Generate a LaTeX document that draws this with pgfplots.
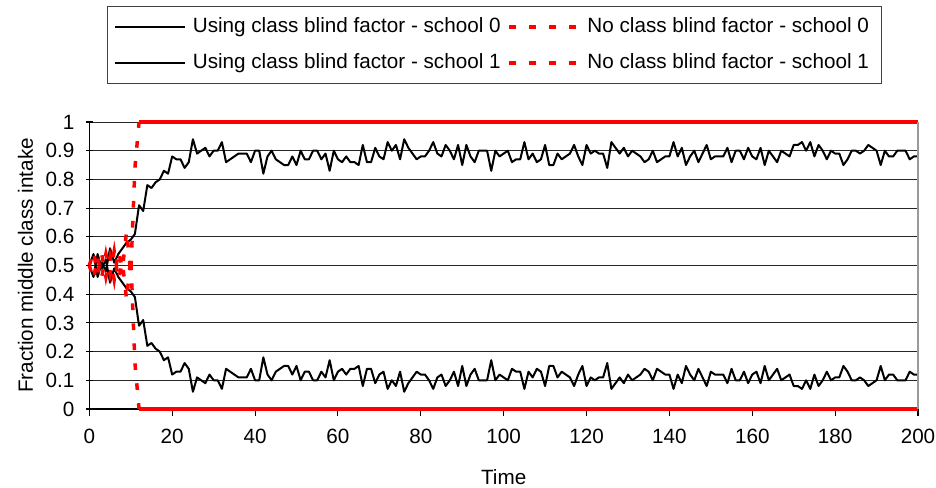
\documentclass[border=0pt]{standalone}
\usepackage{fontspec}
\setmainfont{Liberation Sans}
\usepackage{pgfplots}
\usepackage{pgfplotstable}
\pgfplotsset{compat=1.18}

% t, school 0, school 1 (using class blind factor)
\pgfplotstableread{
t a b
0 0.50 0.50
1 0.54 0.46
2 0.46 0.54
3 0.51 0.49
4 0.48 0.52
5 0.56 0.44
6 0.51 0.49
7 0.54 0.46
8 0.56 0.44
9 0.58 0.42
10 0.59 0.41
11 0.61 0.39
12 0.71 0.29
13 0.69 0.31
14 0.78 0.22
15 0.77 0.23
16 0.79 0.21
17 0.80 0.20
18 0.83 0.17
19 0.82 0.18
20 0.88 0.12
21 0.87 0.13
22 0.87 0.13
23 0.84 0.16
24 0.86 0.14
25 0.94 0.06
26 0.89 0.11
27 0.90 0.10
28 0.91 0.09
29 0.88 0.12
30 0.90 0.10
31 0.90 0.10
32 0.93 0.07
33 0.86 0.14
34 0.87 0.13
35 0.88 0.12
36 0.89 0.11
37 0.89 0.11
38 0.89 0.11
39 0.86 0.14
40 0.90 0.10
41 0.90 0.10
42 0.82 0.18
43 0.88 0.12
44 0.90 0.10
45 0.87 0.13
46 0.86 0.14
47 0.85 0.15
48 0.85 0.15
49 0.88 0.12
50 0.85 0.15
51 0.90 0.10
52 0.87 0.13
53 0.87 0.13
54 0.90 0.10
55 0.90 0.10
56 0.87 0.13
57 0.89 0.11
58 0.83 0.17
59 0.90 0.10
60 0.87 0.13
61 0.86 0.14
62 0.88 0.12
63 0.86 0.14
64 0.86 0.14
65 0.85 0.15
66 0.92 0.08
67 0.86 0.14
68 0.86 0.14
69 0.91 0.09
70 0.88 0.12
71 0.87 0.13
72 0.93 0.07
73 0.90 0.10
74 0.92 0.08
75 0.87 0.13
76 0.94 0.06
77 0.91 0.09
78 0.89 0.11
79 0.87 0.13
80 0.88 0.12
81 0.88 0.12
82 0.90 0.10
83 0.93 0.07
84 0.89 0.11
85 0.88 0.12
86 0.92 0.08
87 0.90 0.10
88 0.87 0.13
89 0.92 0.08
90 0.85 0.15
91 0.92 0.08
92 0.88 0.12
93 0.86 0.14
94 0.90 0.10
95 0.90 0.10
96 0.90 0.10
97 0.83 0.17
98 0.90 0.10
99 0.88 0.12
100 0.89 0.11
101 0.90 0.10
102 0.86 0.14
103 0.87 0.13
104 0.87 0.13
105 0.93 0.07
106 0.87 0.13
107 0.89 0.11
108 0.86 0.14
109 0.87 0.13
110 0.92 0.08
111 0.85 0.15
112 0.85 0.15
113 0.89 0.11
114 0.87 0.13
115 0.88 0.12
116 0.89 0.11
117 0.92 0.08
118 0.88 0.12
119 0.85 0.15
120 0.92 0.08
121 0.89 0.11
122 0.90 0.10
123 0.89 0.11
124 0.89 0.11
125 0.84 0.16
126 0.93 0.07
127 0.91 0.09
128 0.89 0.11
129 0.91 0.09
130 0.88 0.12
131 0.90 0.10
132 0.89 0.11
133 0.88 0.12
134 0.86 0.14
135 0.87 0.13
136 0.90 0.10
137 0.86 0.14
138 0.87 0.13
139 0.88 0.12
140 0.88 0.12
141 0.93 0.07
142 0.88 0.12
143 0.91 0.09
144 0.85 0.15
145 0.88 0.12
146 0.90 0.10
147 0.86 0.14
148 0.89 0.11
149 0.92 0.08
150 0.87 0.13
151 0.88 0.12
152 0.88 0.12
153 0.88 0.12
154 0.91 0.09
155 0.86 0.14
156 0.90 0.10
157 0.90 0.10
158 0.87 0.13
159 0.91 0.09
160 0.88 0.12
161 0.87 0.13
162 0.91 0.09
163 0.85 0.15
164 0.90 0.10
165 0.88 0.12
166 0.86 0.14
167 0.90 0.10
168 0.89 0.11
169 0.88 0.12
170 0.92 0.08
171 0.92 0.08
172 0.93 0.07
173 0.90 0.10
174 0.93 0.07
175 0.88 0.12
176 0.92 0.08
177 0.90 0.10
178 0.87 0.13
179 0.90 0.10
180 0.89 0.11
181 0.89 0.11
182 0.85 0.15
183 0.87 0.13
184 0.90 0.10
185 0.90 0.10
186 0.89 0.11
187 0.90 0.10
188 0.92 0.08
189 0.91 0.09
190 0.90 0.10
191 0.85 0.15
192 0.90 0.10
193 0.88 0.12
194 0.88 0.12
195 0.90 0.10
196 0.90 0.10
197 0.90 0.10
198 0.87 0.13
199 0.88 0.12
200 0.88 0.12
}\blacktab

% t, school 0, school 1 (no class blind factor), transition part
\pgfplotstableread{
t a b
0 0.50 0.50
1 0.55 0.45
2 0.47 0.53
3 0.54 0.46
4 0.46 0.54
5 0.53 0.47
6 0.45 0.55
7 0.55 0.45
8 0.49 0.51
9 0.62 0.38
10 0.47 0.53
11 0.84 0.16
12 1.00 0.00
}\redtab

% steady part (no class blind factor)
\pgfplotstableread{
t a b
12 1.00 0.00
200 1.00 0.00
}\redflat

\begin{document}
\begin{tikzpicture}
\path[use as bounding box] (-67pt,-59.25pt) rectangle (635pt,306.75pt);
\begin{axis}[
  at={(0,0)}, anchor=south west,
  scale only axis, width=621.5pt, height=215.25pt,
  xmin=0, xmax=200, ymin=0, ymax=1,
  xtick={0,20,...,200},
  ytick={0,0.1,0.2,0.3,0.4,0.5,0.6,0.7,0.8,0.9,1},
  yticklabels={0,0.1,0.2,0.3,0.4,0.5,0.6,0.7,0.8,0.9,1},
  axis x line*=bottom, axis y line*=left,
  axis line style={black, line width=0.8pt},
  ymajorgrids, grid style={black!85, line width=0.6pt},
  xtick align=outside, ytick align=center, major tick length=5pt,
  tick style={black, line width=0.8pt},
  clip=false,
  font=\fontsize{15.5}{18.6}\selectfont,
  /pgf/number format/assume math mode=true,
  yticklabel style={anchor=east, inner sep=0pt},
  xticklabel style={anchor=north, inner sep=0pt},
  xticklabel shift=10pt, yticklabel shift=8.6pt,
  xlabel={Time}, ylabel={Fraction middle class intake},
  every axis x label/.style={at={(axis description cs:0.5,0)}, anchor=base, inner sep=0pt, yshift=-57pt},
  every axis y label/.style={at={(axis description cs:0,0.5)}, xshift=-42pt, rotate=90, anchor=south, inner sep=0pt},
  legend columns=2,
  legend cell align=left,
  legend style={at={(0,0)}, anchor=north west, xshift=13pt, yshift=302pt,
    draw=black!75, line width=0.75pt, fill=white,
    inner xsep=5.25pt, inner ysep=8pt, row sep=12.6pt, column sep=5pt,
    nodes={inner sep=0pt, text height=11.1pt, text depth=3.3pt},
    font=\fontsize{15.5}{18.6}\selectfont},
  legend image code/.code={\draw[#1] (0pt,0pt) -- (52.5pt,0pt);},
]
\addplot[black, line width=1.5pt, line join=round, forget plot] table[x=t, y=a] {\blacktab};
\addplot[black, line width=1.5pt, line join=round, forget plot] table[x=t, y=b] {\blacktab};
\addplot[red, line width=2.6pt, dash pattern=on 5pt off 10pt, forget plot] table[x=t, y=a] {\redtab};
\addplot[red, line width=2.6pt, dash pattern=on 5pt off 10pt, forget plot] table[x=t, y=b] {\redtab};
\addplot[red, line width=2.6pt, forget plot] table[x=t, y=a] {\redflat};
\addplot[red, line width=2.6pt, forget plot] table[x=t, y=b] {\redflat};
\draw[gray!80, line width=1pt] (rel axis cs:1,0) -- (rel axis cs:1,1);

\addlegendimage{black, line width=1.5pt}
\addlegendentry{Using class blind factor - school 0}
\addlegendimage{red, line width=2.6pt, dash pattern=on 5pt off 10pt}
\addlegendentry{No class blind factor - school 0\hspace*{4pt}}
\addlegendimage{black, line width=1.5pt}
\addlegendentry{Using class blind factor - school 1}
\addlegendimage{red, line width=2.6pt, dash pattern=on 5pt off 10pt}
\addlegendentry{No class blind factor - school 1\hspace*{4pt}}
\end{axis}
\end{tikzpicture}
\end{document}
